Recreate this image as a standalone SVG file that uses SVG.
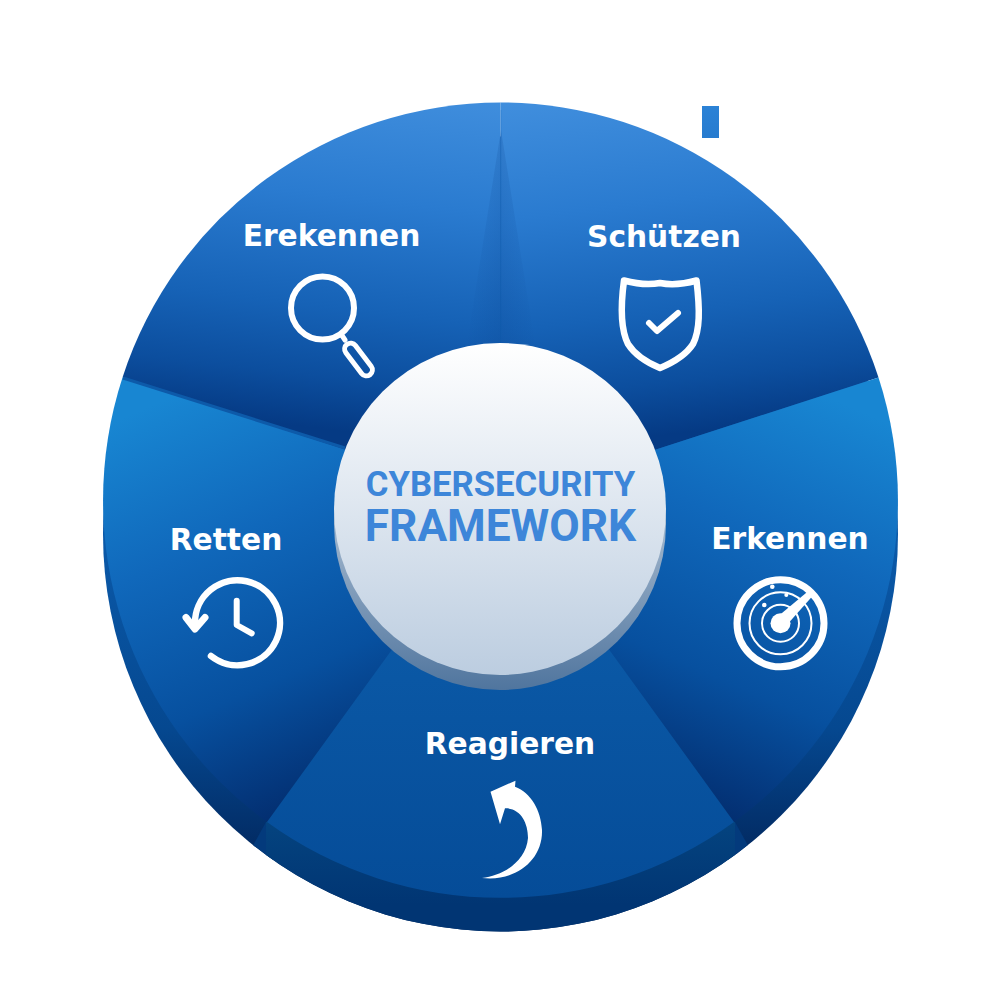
<svg xmlns="http://www.w3.org/2000/svg" width="1000" height="1000" viewBox="0 0 1000 1000">
<style>
.lbl{font-family:"DejaVu Sans",sans-serif;font-weight:700;font-size:29.7px;fill:#fff;text-anchor:middle}
.ttl{font-family:Roboto,sans-serif;font-weight:700;fill:#3d86d9;text-anchor:middle}
.ic{fill:none;stroke:#fff;stroke-linecap:round;stroke-linejoin:round}
</style>
<defs>
<clipPath id="cRim"><circle cx="500.500" cy="534" r="397.500"/></clipPath>
<linearGradient id="gTL" gradientUnits="userSpaceOnUse" x1="520" y1="102" x2="480" y2="447"><stop offset="0" stop-color="#408edd"/><stop offset=".33" stop-color="#2a7bd0"/><stop offset=".65" stop-color="#1662b6"/><stop offset=".85" stop-color="#0c4e9e"/><stop offset="1" stop-color="#053a84"/></linearGradient>
<linearGradient id="gTR" gradientUnits="userSpaceOnUse" x1="520" y1="102" x2="560" y2="447"><stop offset="0" stop-color="#408edd"/><stop offset=".33" stop-color="#2a7bd0"/><stop offset=".65" stop-color="#1662b6"/><stop offset=".85" stop-color="#0c4e9e"/><stop offset="1" stop-color="#053a84"/></linearGradient>
<linearGradient id="gR" gradientUnits="userSpaceOnUse" x1="835" y1="400" x2="665" y2="795"><stop offset="0" stop-color="#1886d2"/><stop offset=".35" stop-color="#1068bb"/><stop offset=".7" stop-color="#07509f"/><stop offset="1" stop-color="#032e70"/></linearGradient>
<linearGradient id="gL" gradientUnits="userSpaceOnUse" x1="165" y1="400" x2="335" y2="795"><stop offset="0" stop-color="#1886d2"/><stop offset=".35" stop-color="#1068bb"/><stop offset=".7" stop-color="#07509f"/><stop offset="1" stop-color="#032e70"/></linearGradient>
<linearGradient id="gB" x1="0" y1="0" x2="0" y2="1"><stop offset="0" stop-color="#0e60ae"/><stop offset="1" stop-color="#054c98"/></linearGradient>
<linearGradient id="gRim" gradientUnits="userSpaceOnUse" x1="0" y1="530" x2="0" y2="860"><stop offset="0" stop-color="#0b5aaa"/><stop offset=".6" stop-color="#054890"/><stop offset="1" stop-color="#02285f"/></linearGradient>
<linearGradient id="gRimB" gradientUnits="userSpaceOnUse" x1="0" y1="825" x2="0" y2="905"><stop offset="0" stop-color="#04437f"/><stop offset="1" stop-color="#013573"/></linearGradient>
<linearGradient id="gHub" x1="0" y1="0" x2="0" y2="1"><stop offset="0" stop-color="#fff"/><stop offset="1" stop-color="#bccde0"/></linearGradient>
<linearGradient id="gHubR" x1="0" y1="0" x2="0" y2="1"><stop offset=".45" stop-color="#a9bdd2"/><stop offset="1" stop-color="#50759e"/></linearGradient>
<linearGradient id="gSq" x1="0" y1="0" x2="0" y2="1"><stop offset="0" stop-color="#2b82d6"/><stop offset="1" stop-color="#267bcf"/></linearGradient>
<linearGradient id="gSeam" x1="0" y1="0" x2="1" y2="0"><stop offset="0" stop-color="#063a84" stop-opacity="0"/><stop offset=".5" stop-color="#063a84" stop-opacity=".16"/><stop offset="1" stop-color="#063a84" stop-opacity="0"/></linearGradient>
</defs>
<g id="rim">
<circle cx="500.500" cy="534" r="397.500" fill="url(#gRim)"/>
<g clip-path="url(#cRim)">
<path d="M266 822L245 860H756L735 822Z" fill="#033a7c"/>
<path d="M266 822V960H735V822Z" fill="url(#gRimB)"/>
</g>
</g>
<g id="seg-erekennen"><path d="M500.500 500L500.500 102.500A397.500 397.500 0 0 0 122.500 377.500Z" fill="url(#gTL)"/></g>
<g id="seg-schuetzen"><path d="M500.500 500L500.500 102.500A397.500 397.500 0 0 1 878.500 377.500Z" fill="url(#gTR)"/><path d="M501 130L466 350H536Z" fill="url(#gSeam)"/><path d="M501 110V350" stroke="#0d5aa9" stroke-opacity=".2" stroke-width="1" fill="none"/></g>
<g id="seg-erkennen"><path d="M500.500 500L878.500 377.500A397.500 397.500 0 0 1 734 822Z" fill="url(#gR)"/></g>
<g id="seg-retten"><path d="M500.500 500L122.500 377.500A397.500 397.500 0 0 0 267 822Z" fill="url(#gL)"/><path d="M123 378L345 448" stroke="#0d5aa9" stroke-width="3" fill="none"/></g>
<g id="seg-reagieren"><path d="M500.500 500L734 822A397.500 397.500 0 0 1 267 822Z" fill="url(#gB)"/></g>
<g id="node-erekennen">
<text class="lbl" x="331.500" y="246">Erekennen</text>
<circle class="ic" cx="322.500" cy="308" r="31.500" stroke-width="6"/>
<path class="ic" d="M341 334L345 340" stroke-width="5"/>
<rect class="ic" x="-19" y="-6" width="38" height="12" rx="6" transform="translate(358.500,359.500) rotate(52.800)" stroke-width="5"/>
</g>
<g id="node-schuetzen">
<text class="lbl" x="664" y="247">Schützen</text>
<path class="ic" d="M624 280.500C637 284 650 285 660 283C670 285 684 284 696.500 280.500C700 310 700 330 693 344C686 355 672 363 660 368C648 363 635 355 628 344C621 330 620 310 624 280.500Z" stroke-width="6.500"/>
<path class="ic" d="M649 323L657 331L678 313" stroke-width="6"/>
</g>
<g id="node-erkennen">
<text class="lbl" x="790" y="549">Erkennen</text>
<circle class="ic" cx="780.500" cy="623.300" r="43.500" stroke-width="7"/>
<circle class="ic" cx="780.500" cy="623.300" r="31" stroke-width="2"/>
<circle class="ic" cx="780.500" cy="623.300" r="18.500" stroke-width="2"/>
<circle cx="780.500" cy="623.300" r="10" fill="#fff"/>
<path d="M809 590.500L813 595.500L785 627L776 618Z" fill="#fff"/>
<circle cx="772.300" cy="586.700" r="2.300" fill="#fff"/>
<circle cx="764.300" cy="605" r="2.300" fill="#fff"/>
<circle cx="786.300" cy="595" r="2" fill="#fff"/>
</g>
<g id="node-reagieren">
<text class="lbl" x="510" y="754">Reagieren</text>
<path d="M515.500 780.700L490.500 791.700L500 824.300L505 808.300C520 808 528 822 528 838C526 862 502 876 482 878C516 882 543 860 542 830C541 810 531 793 515 786.700Z" fill="#fff"/>
</g>
<g id="node-retten">
<text class="lbl" x="226" y="550">Retten</text>
<path class="ic" d="M195 623.300A42.500 42.500 0 1 1 211 656" stroke-width="6.500"/>
<path class="ic" d="M186 617.500L195 629L205 617.500" stroke-width="7"/>
<path class="ic" d="M236.700 600.700V625L251.700 633.300" stroke-width="6"/>
</g>
<g id="hub">
<circle cx="500" cy="524" r="166" fill="url(#gHubR)"/>
<circle cx="500" cy="509" r="166" fill="url(#gHub)"/>
<text class="ttl" x="500.500" y="496" font-size="34.700">CYBERSECURITY</text>
<text class="ttl" x="500.500" y="541" font-size="44.200">FRAMEWORK</text>
</g>
<rect id="mark" x="702" y="106" width="17" height="32" fill="url(#gSq)"/>
</svg>
